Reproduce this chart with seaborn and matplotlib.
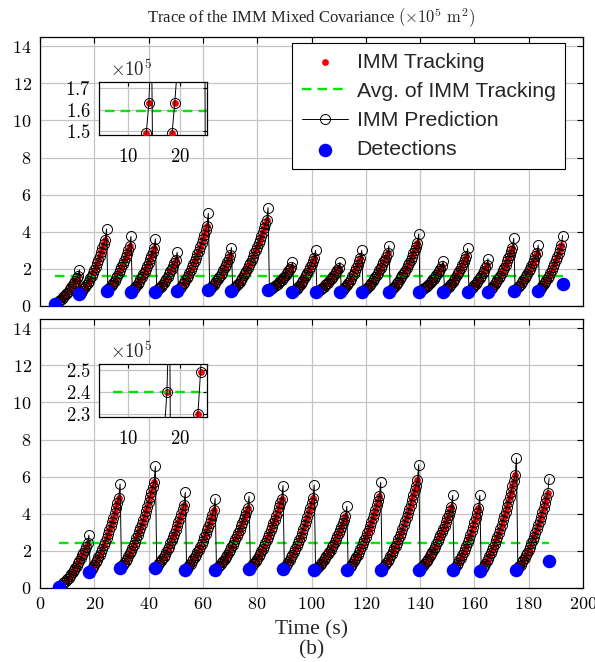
import matplotlib
matplotlib.use("Agg")
import matplotlib.pyplot as plt
import numpy as np
import pandas as pd
import seaborn as sns

# ---------------- data (trace of mixed covariance, x10^5 m^2) ----------------
# detection instants (s), covariance after each detection update,
# predicted covariance just before each detection, and the tracking
# covariance values between two detections (0.5 s sampling)
top_det_t = [5.5, 14.5, 24.5, 33.5, 42.5, 50.5, 62.0, 70.5, 84.0, 93.0, 101.5,
             110.5, 118.5, 128.5, 139.5, 148.5, 157.5, 165.0, 174.5, 183.5, 192.5]
top_det_v = [0.12, 0.65, 0.82, 0.77, 0.77, 0.80, 0.86, 0.80, 0.86, 0.74, 0.74,
             0.74, 0.74, 0.77, 0.77, 0.77, 0.77, 0.77, 0.82, 0.82, 1.20]
top_peak = [1.95, 4.15, 3.75, 3.62, 2.90, 5.00, 3.15, 5.30, 2.35, 3.00, 2.35,
            3.00, 3.25, 3.88, 2.42, 3.10, 2.55, 3.65, 3.28, 3.80]
top_growth = [
    [0.16, 0.21, 0.27, 0.33, 0.39, 0.47, 0.54, 0.63, 0.71, 0.81, 0.91, 1.01, 1.13, 1.24, 1.37, 1.49, 1.63],
    [0.72, 0.81, 0.90, 1.00, 1.11, 1.23, 1.35, 1.49, 1.63, 1.79, 1.95, 2.12, 2.30, 2.49, 2.68, 2.89, 3.10, 3.33, 3.56],
    [0.89, 0.97, 1.06, 1.15, 1.26, 1.37, 1.50, 1.63, 1.77, 1.92, 2.08, 2.25, 2.43, 2.62, 2.81, 3.02, 3.23],
    [0.84, 0.91, 1.00, 1.09, 1.20, 1.31, 1.43, 1.56, 1.70, 1.84, 2.00, 2.16, 2.34, 2.52, 2.71, 2.91, 3.12],
    [0.83, 0.89, 0.97, 1.05, 1.14, 1.24, 1.35, 1.46, 1.59, 1.72, 1.86, 2.01, 2.17, 2.33, 2.50],
    [0.88, 0.96, 1.05, 1.16, 1.26, 1.38, 1.51, 1.64, 1.78, 1.93, 2.08, 2.25, 2.42, 2.60, 2.79, 2.99, 3.19, 3.40, 3.62, 3.85, 4.08, 4.33],
    [0.92, 0.98, 1.06, 1.14, 1.23, 1.33, 1.43, 1.54, 1.67, 1.80, 1.93, 2.08, 2.23, 2.39, 2.56, 2.74],
    [0.87, 0.95, 1.03, 1.12, 1.21, 1.31, 1.42, 1.53, 1.65, 1.78, 1.91, 2.04, 2.19, 2.34, 2.49, 2.66, 2.83, 3.00, 3.18, 3.37, 3.56, 3.76, 3.97, 4.18, 4.40, 4.62],
    [0.90, 0.94, 0.98, 1.03, 1.08, 1.14, 1.20, 1.27, 1.34, 1.42, 1.50, 1.59, 1.68, 1.77, 1.87, 1.98, 2.09],
    [0.80, 0.86, 0.93, 1.02, 1.10, 1.20, 1.30, 1.42, 1.54, 1.66, 1.80, 1.94, 2.09, 2.25, 2.42, 2.59],
    [0.78, 0.82, 0.87, 0.92, 0.98, 1.04, 1.11, 1.19, 1.26, 1.35, 1.43, 1.53, 1.63, 1.73, 1.84, 1.95, 2.07],
    [0.80, 0.87, 0.95, 1.04, 1.13, 1.24, 1.35, 1.47, 1.61, 1.75, 1.90, 2.05, 2.22, 2.40, 2.58],
    [0.79, 0.85, 0.92, 0.99, 1.07, 1.15, 1.25, 1.34, 1.45, 1.56, 1.67, 1.79, 1.92, 2.06, 2.20, 2.35, 2.50, 2.66, 2.83],
    [0.83, 0.90, 0.97, 1.05, 1.13, 1.22, 1.32, 1.43, 1.54, 1.66, 1.78, 1.91, 2.05, 2.19, 2.34, 2.50, 2.66, 2.83, 3.00, 3.19, 3.37],
    [0.81, 0.85, 0.90, 0.96, 1.02, 1.08, 1.15, 1.23, 1.31, 1.39, 1.48, 1.58, 1.68, 1.78, 1.89, 2.01, 2.13],
    [0.83, 0.89, 0.96, 1.03, 1.12, 1.21, 1.31, 1.41, 1.53, 1.65, 1.77, 1.91, 2.05, 2.20, 2.36, 2.52, 2.69],
    [0.82, 0.88, 0.95, 1.02, 1.11, 1.20, 1.30, 1.40, 1.52, 1.64, 1.77, 1.91, 2.06, 2.21],
    [0.83, 0.91, 0.99, 1.08, 1.17, 1.28, 1.39, 1.51, 1.64, 1.78, 1.92, 2.07, 2.23, 2.40, 2.58, 2.76, 2.95, 3.15],
    [0.88, 0.94, 1.02, 1.10, 1.19, 1.28, 1.39, 1.50, 1.62, 1.75, 1.88, 2.02, 2.17, 2.33, 2.49, 2.67, 2.85],
    [0.89, 0.97, 1.06, 1.16, 1.27, 1.38, 1.51, 1.64, 1.79, 1.94, 2.11, 2.28, 2.46, 2.65, 2.85, 3.06, 3.27],
]
top_avg = 1.595

bot_det_t = [7.0, 18.0, 29.5, 42.5, 53.5, 64.5, 77.0, 89.5, 101.0, 113.0, 125.5,
             139.5, 152.0, 162.0, 175.5, 187.5]
bot_det_v = [0.07, 0.85, 1.07, 1.07, 0.98, 0.98, 1.03, 1.03, 0.95, 0.95, 0.95,
             0.98, 0.96, 0.89, 0.98, 1.48]
bot_peak = [2.85, 5.60, 6.55, 5.15, 4.82, 4.93, 5.52, 5.55, 4.40, 5.70, 6.65,
            5.00, 5.00, 7.00, 5.90]
bot_growth = [
    [0.12, 0.18, 0.25, 0.32, 0.39, 0.48, 0.56, 0.66, 0.76, 0.86, 0.97, 1.09, 1.21, 1.34, 1.47, 1.61, 1.76, 1.91, 2.07, 2.23, 2.40],
    [0.94, 1.03, 1.14, 1.25, 1.38, 1.51, 1.65, 1.80, 1.96, 2.12, 2.30, 2.49, 2.68, 2.89, 3.10, 3.32, 3.55, 3.79, 4.04, 4.30, 4.56, 4.84],
    [1.16, 1.25, 1.36, 1.47, 1.59, 1.72, 1.86, 2.00, 2.16, 2.32, 2.49, 2.67, 2.85, 3.05, 3.25, 3.46, 3.67, 3.90, 4.14, 4.38, 4.63, 4.89, 5.15, 5.43, 5.71],
    [1.15, 1.24, 1.33, 1.43, 1.55, 1.67, 1.80, 1.93, 2.08, 2.23, 2.40, 2.57, 2.75, 2.93, 3.13, 3.34, 3.55, 3.77, 4.00, 4.24, 4.49],
    [1.05, 1.14, 1.23, 1.32, 1.43, 1.54, 1.66, 1.79, 1.93, 2.07, 2.23, 2.39, 2.56, 2.73, 2.92, 3.11, 3.31, 3.52, 3.74, 3.96, 4.20],
    [1.05, 1.12, 1.20, 1.28, 1.38, 1.47, 1.58, 1.69, 1.80, 1.93, 2.06, 2.19, 2.34, 2.48, 2.64, 2.80, 2.97, 3.14, 3.32, 3.51, 3.70, 3.90, 4.11, 4.32],
    [1.11, 1.19, 1.28, 1.37, 1.48, 1.59, 1.71, 1.83, 1.97, 2.11, 2.25, 2.41, 2.57, 2.74, 2.92, 3.10, 3.29, 3.49, 3.69, 3.90, 4.12, 4.35, 4.58, 4.82],
    [1.11, 1.20, 1.30, 1.41, 1.53, 1.66, 1.79, 1.93, 2.08, 2.24, 2.41, 2.59, 2.77, 2.97, 3.17, 3.38, 3.60, 3.83, 4.07, 4.31, 4.56, 4.83],
    [1.01, 1.08, 1.15, 1.23, 1.31, 1.40, 1.50, 1.60, 1.71, 1.82, 1.95, 2.07, 2.20, 2.34, 2.49, 2.64, 2.79, 2.96, 3.12, 3.30, 3.48, 3.66, 3.86],
    [1.03, 1.12, 1.21, 1.31, 1.43, 1.54, 1.67, 1.80, 1.94, 2.09, 2.25, 2.41, 2.58, 2.76, 2.95, 3.14, 3.34, 3.55, 3.77, 3.99, 4.22, 4.46, 4.71, 4.96],
    [1.03, 1.13, 1.23, 1.33, 1.45, 1.57, 1.70, 1.83, 1.98, 2.13, 2.29, 2.45, 2.62, 2.80, 2.99, 3.18, 3.39, 3.59, 3.81, 4.03, 4.26, 4.50, 4.75, 5.00, 5.26, 5.52, 5.80],
    [1.05, 1.12, 1.20, 1.29, 1.38, 1.48, 1.59, 1.70, 1.82, 1.94, 2.08, 2.21, 2.36, 2.51, 2.67, 2.83, 3.00, 3.18, 3.36, 3.55, 3.75, 3.95, 4.16, 4.38],
    [1.05, 1.14, 1.25, 1.36, 1.49, 1.63, 1.77, 1.93, 2.10, 2.27, 2.46, 2.66, 2.86, 3.08, 3.31, 3.55, 3.79, 4.05, 4.32],
    [0.98, 1.09, 1.20, 1.32, 1.45, 1.58, 1.73, 1.88, 2.04, 2.21, 2.39, 2.58, 2.77, 2.98, 3.19, 3.41, 3.64, 3.88, 4.12, 4.38, 4.64, 4.91, 5.19, 5.48, 5.77, 6.08],
    [1.07, 1.16, 1.26, 1.38, 1.50, 1.63, 1.76, 1.91, 2.06, 2.23, 2.40, 2.58, 2.77, 2.97, 3.17, 3.39, 3.61, 3.84, 4.08, 4.33, 4.59, 4.85, 5.13],
]
bot_avg = 2.40

y_ticks = [0, 2, 4, 6, 8, 10, 12, 14]
x_ticks = [0, 20, 40, 60, 80, 100, 120, 140, 160, 180, 200]
top_inset_yticks = [1.5, 1.6, 1.7]
bot_inset_yticks = [2.3, 2.4, 2.5]
inset_xticks = [10, 20]

title = r"Trace of the IMM Mixed Covariance $(\times 10^5\ \mathrm{m}^2)$"

# ---------------- style ----------------
sns.set_theme(style="white")
plt.rcParams["font.family"] = ["Liberation Serif", "DejaVu Serif"]
plt.rcParams["mathtext.fontset"] = "cm"

RED, GREEN, BLUE = "#ff0000", "#00e600", "#0000ff"
GRID = "#c4c4c4"
TICK_FS = 13


def build(det_t, det_v, peak, growth):
    trk_t, trk_v, pred_t, pred_v = [], [], [], []
    for i, g in enumerate(growth):
        t0, t1 = det_t[i], det_t[i + 1]
        steps = len(g) + 1
        ts = [t0 + (t1 - t0) * k / steps for k in range(steps)]
        trk_t += ts
        trk_v += [det_v[i]] + list(g)
        pred_t += ts
        pred_v += [det_v[0] if i == 0 else peak[i - 1]] + list(g)
    trk_t.append(det_t[-1])
    trk_v.append(det_v[-1])
    pred_t.append(det_t[-1])
    pred_v.append(peak[-1])
    trk = pd.DataFrame({"t": trk_t, "v": trk_v})
    pred = pd.DataFrame({"t": pred_t, "v": pred_v})
    det = pd.DataFrame({"t": det_t, "v": det_v})
    avg_line = lambda a: pd.DataFrame({"t": [det_t[0], det_t[-1]], "v": [a, a]})
    return trk, pred, det, avg_line


def draw(ax, data, avg):
    trk, pred, det, avg_line = data
    sns.scatterplot(data=trk, x="t", y="v", ax=ax, color=RED, s=24,
                    linewidth=0, label="IMM Tracking", zorder=3, legend=False)
    sns.lineplot(data=avg_line(avg), x="t", y="v", ax=ax, color=GREEN,
                 lw=1.7, dashes=False, label="Avg. of IMM Tracking", zorder=4)
    ax.lines[-1].set_dashes([4, 2.6])
    sns.lineplot(data=pred, x="t", y="v", ax=ax, sort=False, estimator=None,
                 color="black", lw=0.7, marker="o", markersize=7.2,
                 markerfacecolor="none", markeredgecolor="black",
                 markeredgewidth=0.7, label="IMM Prediction", zorder=5)
    sns.scatterplot(data=det, x="t", y="v", ax=ax, color=BLUE, s=95,
                    linewidth=0, label="Detections", zorder=6, legend=False)


def style_axes(ax, xt, yt, fs):
    ax.set_xticks(xt)
    ax.set_yticks(yt)
    ax.set_xticklabels([rf"${v:g}$" for v in xt])
    ax.set_yticklabels([rf"${v:g}$" for v in yt])
    ax.tick_params(direction="in", top=True, right=True, length=4, width=0.8,
                   colors="black", labelsize=fs, pad=6)
    ax.grid(True, color=GRID, lw=0.9)
    ax.set_axisbelow(True)
    for sp in ax.spines.values():
        sp.set_color("black")
        sp.set_linewidth(0.9)
    ax.set_xlabel("")
    ax.set_ylabel("")


W, H = 595, 662
fig = plt.figure(figsize=(W / 100, H / 100), dpi=100)
L, R = 40 / W, 583 / W
ax_top = fig.add_axes([L, 1 - 306 / H, R - L, 269 / H])
ax_bot = fig.add_axes([L, 1 - 588 / H, R - L, 269 / H])

top_data = build(top_det_t, top_det_v, top_peak, top_growth)
bot_data = build(bot_det_t, bot_det_v, bot_peak, bot_growth)

for ax, data, avg in [(ax_top, top_data, top_avg), (ax_bot, bot_data, bot_avg)]:
    draw(ax, data, avg)
    style_axes(ax, x_ticks, y_ticks, TICK_FS)
    ax.set_xlim(0, 200)
    ax.set_ylim(0, 14.5)

ax_top.tick_params(labelbottom=False)
ax_top.set_title(title, fontsize=12, pad=10)
ax_bot.set_xlabel("Time (s)", fontsize=15.5, labelpad=5)
fig.text((L + R) / 2, 1 - 650 / H, "(b)", ha="center", va="center", fontsize=15.5)

# legend
handles, labels = ax_top.get_legend_handles_labels()
if ax_bot.get_legend():
    ax_bot.get_legend().remove()
leg = ax_top.legend(handles, labels, loc="upper right",
                    bbox_to_anchor=((565 - 40) / 543, (306 - 43) / 269),
                    borderaxespad=0, frameon=True, fancybox=False,
                    edgecolor="black", framealpha=1, scatterpoints=1,
                    numpoints=1, handlelength=2.2, handletextpad=0.38,
                    labelspacing=0.48, borderpad=0.45,
                    prop={"family": ["Liberation Sans", "DejaVu Sans"], "size": 15.3})
leg.get_frame().set_linewidth(0.8)

# zoomed insets around the average level
for ylo, yhi, yt, data, avg, ybot in [
        (1.481, 1.731, top_inset_yticks, top_data, top_avg, 135),
        (2.286, 2.527, bot_inset_yticks, bot_data, bot_avg, 417.3)]:
    ins = fig.add_axes([99.3 / W, 1 - ybot / H, 107.4 / W, 53.3 / H])
    ins.set_facecolor("white")
    draw(ins, data, avg)
    if ins.get_legend():
        ins.get_legend().remove()
    style_axes(ins, inset_xticks, yt, 13.5)
    ins.tick_params(length=3)
    ins.tick_params(axis="x", pad=9)
    ins.set_xlim(4.4, 25.2)
    ins.set_ylim(ylo, yhi)
    ins.text(0.1, 1.03, r"$\times10^5$", transform=ins.transAxes,
             fontsize=13.5, ha="left", va="bottom")

fig.savefig("out.png", dpi=100)
